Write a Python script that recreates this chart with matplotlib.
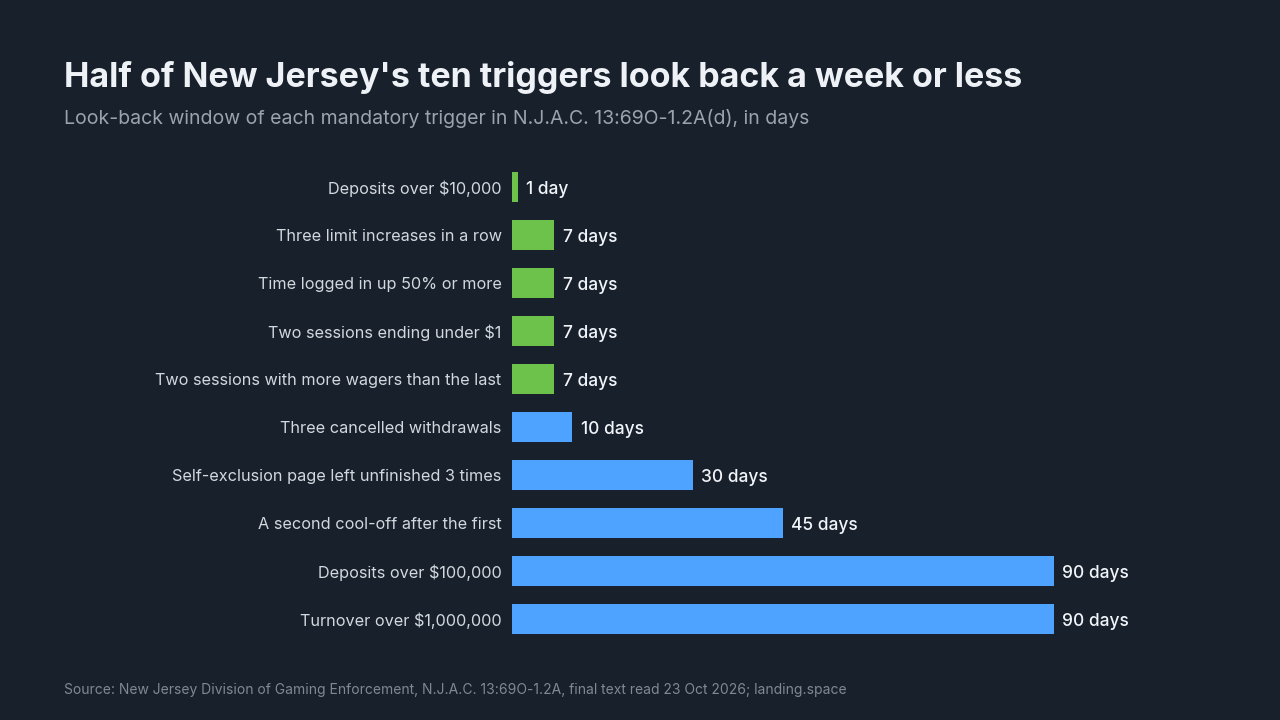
import matplotlib
matplotlib.use("Agg")
import matplotlib.pyplot as plt

categories = [
    "Deposits over $10,000",
    "Three limit increases in a row",
    "Time logged in up 50% or more",
    "Two sessions ending under $1",
    "Two sessions with more wagers than the last",
    "Three cancelled withdrawals",
    "Self-exclusion page left unfinished 3 times",
    "A second cool-off after the first",
    "Deposits over $100,000",
    "Turnover over $1,000,000",
]
days = [1, 7, 7, 7, 7, 10, 30, 45, 90, 90]
value_labels = ["1 day", "7 days", "7 days", "7 days", "7 days",
                "10 days", "30 days", "45 days", "90 days", "90 days"]

BG = "#18202b"
GREEN = "#6cc24a"
BLUE = "#4da3ff"
FONT = ["Inter", "DejaVu Sans"]
plt.rcParams["font.family"] = FONT

fig = plt.figure(figsize=(12.8, 7.2), dpi=100, facecolor=BG)
ax = fig.add_axes([0.4, 1 - 643 / 720, 542 / 1280, 480 / 720])
ax.set_facecolor(BG)

colors = [GREEN if d <= 7 else BLUE for d in days]
y = list(range(len(categories)))
ax.barh(y, days, height=0.625, color=colors)
ax.set_xlim(0, 90)
ax.set_ylim(len(categories) - 0.5, -0.5)
for s in ax.spines.values():
    s.set_visible(False)
ax.set_xticks([])
ax.set_yticks(y)
ax.set_yticklabels(categories, fontsize=11.7, color="#d3d8df", va="center_baseline")
ax.tick_params(axis="y", length=0, pad=7.5)

for yi, d, lab in zip(y, days, value_labels):
    ax.text(d + 1.4, yi, lab, va="center_baseline", ha="left", fontsize=12.5,
            color="#f1f4f8", fontweight="medium", clip_on=False)

fig.text(64 / 1280, 1 - 77 / 720, "Half of New Jersey's ten triggers look back a week or less",
         fontsize=24.5, fontweight="bold", color="#eef2f7", va="center", ha="left")
fig.text(64 / 1280, 1 - 119 / 720,
         "Look-back window of each mandatory trigger in N.J.A.C. 13:69O-1.2A(d), in days",
         fontsize=14, color="#9aa3ae", va="center", ha="left")
fig.text(64 / 1280, 1 - 690 / 720,
         "Source: New Jersey Division of Gaming Enforcement, N.J.A.C. 13:69O-1.2A, final text read 23 Oct 2026; landing.space",
         fontsize=10, color="#7f8893", va="center", ha="left")

fig.savefig("out.png", dpi=100, facecolor=BG)
